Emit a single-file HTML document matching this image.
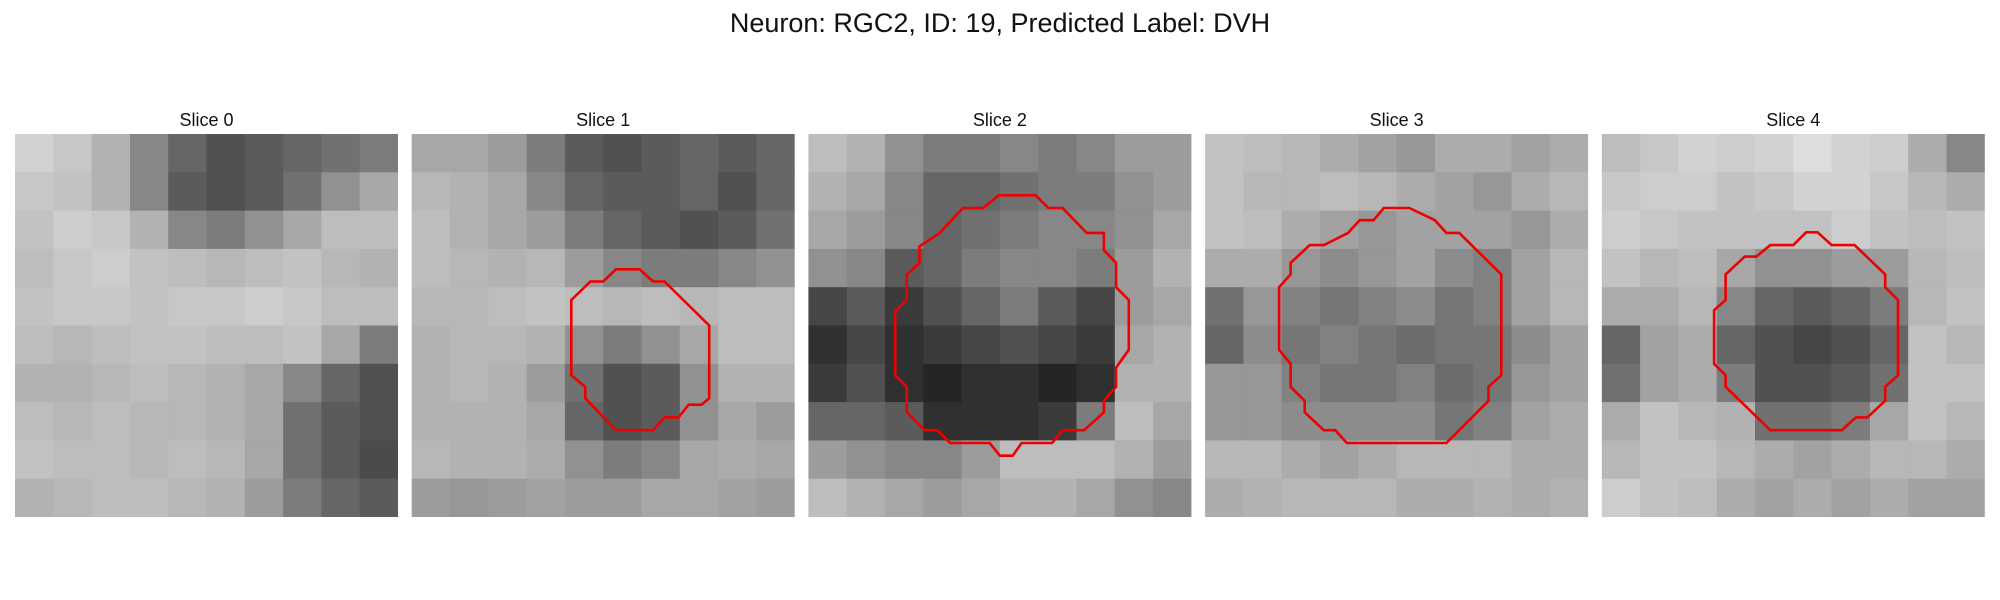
<!DOCTYPE html>
<html><head><meta charset="utf-8">
<style>
body{margin:0;background:#fff;width:2000px;height:600px;overflow:hidden;font-family:"Liberation Sans","DejaVu Sans",sans-serif;}
svg{display:block}
</style></head>
<body>
<svg id="fig" width="2000" height="600">
<text x="1000" y="32" text-anchor="middle" font-size="27" fill="#111">Neuron: RGC2, ID: 19, Predicted Label: DVH</text>
</svg>
<script>
const sliceTitles = ["Slice 0","Slice 1","Slice 2","Slice 3","Slice 4"];
const slice0 = [
[190,180,160,120,90,70,80,90,100,110],
[180,175,160,120,80,70,80,100,130,150],
[175,185,180,160,120,110,130,150,170,170],
[170,180,185,175,170,165,170,175,165,160],
[175,180,180,175,180,180,185,180,170,170],
[170,165,170,175,175,170,170,175,150,110],
[160,160,165,170,165,160,150,120,90,70],
[170,165,170,165,165,160,150,100,80,70],
[175,170,170,165,170,165,150,100,80,65],
[160,165,170,170,165,160,140,110,90,80]];
const slice1 = [
[150,150,140,110,80,70,80,90,80,90],
[165,160,150,120,90,80,80,90,70,90],
[170,160,150,140,110,90,80,70,80,100],
[170,165,160,165,140,120,110,110,120,130],
[165,165,170,175,170,165,170,165,170,170],
[160,165,165,160,130,110,130,150,170,170],
[160,165,160,140,100,70,80,130,160,160],
[160,160,160,150,90,70,80,130,150,140],
[165,160,160,155,130,110,120,150,155,150],
[140,135,140,145,140,140,150,150,145,140]];
const slice2 = [
[170,160,130,110,110,120,110,120,140,140],
[160,150,120,90,90,100,110,110,130,140],
[150,140,120,90,100,110,120,120,130,150],
[130,120,80,90,110,120,120,110,140,160],
[60,80,50,70,90,110,80,60,140,150],
[40,60,40,50,60,70,60,50,150,160],
[50,70,40,30,40,40,30,40,160,160],
[90,90,80,40,40,40,50,110,170,150],
[140,130,120,120,140,170,170,170,160,140],
[170,160,150,140,150,160,160,150,130,120]];
const slice3 = [
[175,170,165,155,145,135,155,155,145,155],
[175,165,165,170,165,155,145,135,155,165],
[175,170,155,145,135,145,145,145,135,155],
[155,155,135,125,135,145,125,115,145,165],
[100,135,115,105,115,125,105,115,145,165],
[90,125,105,115,105,95,105,105,125,145],
[135,135,115,105,105,115,95,105,135,145],
[135,135,125,125,125,125,105,115,145,155],
[165,165,155,145,155,165,165,165,155,155],
[155,160,165,165,165,155,155,160,155,160]];
const slice4 = [
[170,180,190,185,190,200,190,185,155,120],
[180,185,185,175,180,190,190,180,165,155],
[185,180,175,175,175,175,185,175,170,175],
[175,165,170,150,130,130,140,140,165,170],
[155,155,165,120,90,80,90,110,165,175],
[90,145,155,90,70,60,70,90,175,165],
[100,145,155,110,70,70,80,100,175,175],
[155,175,165,160,100,100,110,150,175,165],
[165,175,175,165,155,145,155,165,165,155],
[185,175,170,155,145,155,145,155,145,145]];
const contour0 = [];
const contour1 = [[12.5,13.0],[14.0,11.55],[15.0,11.55],[16.0,10.6],[17.85,10.6],[18.9,11.55],[19.8,11.55],[23.3,15.0],[23.3,20.7],[22.7,21.2],[21.7,21.2],[20.9,22.2],[19.8,22.2],[18.9,23.2],[16.0,23.2],[13.6,20.7],[13.6,19.8],[12.5,18.9]];
const contour2 = [[6.8,13.9],[7.7,13.0],[7.7,11.0],[8.7,10.1],[8.7,8.8],[10.3,7.75],[12.1,5.8],[13.7,5.8],[14.9,4.8],[17.8,4.8],[18.8,5.8],[19.9,5.8],[21.8,7.75],[23.15,7.75],[23.15,9.1],[24.1,10.1],[24.1,12.0],[25.1,13.0],[25.1,16.9],[24.1,18.3],[24.1,19.8],[23.15,20.9],[23.15,21.8],[21.6,23.2],[19.9,23.2],[19.1,24.2],[16.7,24.2],[16.0,25.2],[15.0,25.2],[14.2,24.2],[11.1,24.2],[10.1,23.2],[9.1,23.2],[7.7,21.8],[7.7,19.8],[6.8,18.9]];
const contour3 = [[5.8,12.0],[6.7,11.0],[6.7,10.1],[8.2,8.7],[9.3,8.7],[11.2,7.75],[12.1,6.75],[13.2,6.75],[14.0,5.8],[16.0,5.8],[18.0,6.75],[18.9,7.75],[19.9,7.75],[23.2,11.0],[23.2,18.9],[22.2,19.8],[22.2,20.9],[18.9,24.2],[11.1,24.2],[10.2,23.2],[9.3,23.2],[7.8,21.8],[7.8,20.9],[6.7,19.8],[6.7,18.0],[5.8,16.9]];
const contour4 = [[8.8,13.8],[9.7,13.0],[9.7,11.0],[11.2,9.6],[12.1,9.6],[13.2,8.7],[15.0,8.7],[16.0,7.7],[16.9,7.7],[18.0,8.7],[19.8,8.7],[22.2,11.0],[22.2,12.0],[23.2,13.0],[23.2,18.9],[22.2,19.8],[22.2,20.9],[20.8,22.2],[19.9,22.2],[18.8,23.2],[13.2,23.2],[9.7,19.8],[9.7,18.9],[8.8,18.0]];
const slices=[slice0,slice1,slice2,slice3,slice4];
const contours=[contour0,contour1,contour2,contour3,contour4];
const NS="http://www.w3.org/2000/svg";
const svg=document.getElementById('fig');
const PW=383, PX0=15, PSTEP=396.7, PY=134, IMG=30;
function xs(i,u){return PX0+i*PSTEP+u/IMG*PW;}
function ys(u){return PY+u/IMG*PW;}
function shade(v){return Math.round(Math.min(255,v*1.08+5));}
slices.forEach((grid,i)=>{
  const g=document.createElementNS(NS,'g');
  
  
  svg.appendChild(g);
  const t=document.createElementNS(NS,'text');
  
  
  t.setAttribute('x',xs(i,15));t.setAttribute('y',126);
  t.setAttribute('text-anchor','middle');t.setAttribute('font-size','18');t.setAttribute('fill','#111');
  t.textContent=sliceTitles[i];g.appendChild(t);
  const n=grid.length, cu=IMG/n;
  grid.forEach((row,r)=>row.forEach((v,c)=>{
    const rc=document.createElementNS(NS,'rect');
    
    
    const x0=xs(i,c*cu), y0=ys(r*cu);
    rc.setAttribute('x',x0);rc.setAttribute('y',y0);
    rc.setAttribute('width',Math.min(xs(i,(c+1)*cu)-x0+0.5, xs(i,IMG)-x0));
    rc.setAttribute('height',Math.min(ys((r+1)*cu)-y0+0.5, ys(IMG)-y0));
    const s=shade(v);
    rc.setAttribute('fill','rgb('+s+','+s+','+s+')');
    g.appendChild(rc);
  }));
  const pts=contours[i];
  if(pts.length){
    const p=document.createElementNS(NS,'polygon');
    
    
    p.setAttribute('points',pts.map(q=>xs(i,q[0]).toFixed(1)+','+ys(q[1]).toFixed(1)).join(' '));
    p.setAttribute('fill','none');p.setAttribute('stroke','#ee0000');p.setAttribute('stroke-width','2.6');
    g.appendChild(p);
  }
});
</script>
</body></html>
